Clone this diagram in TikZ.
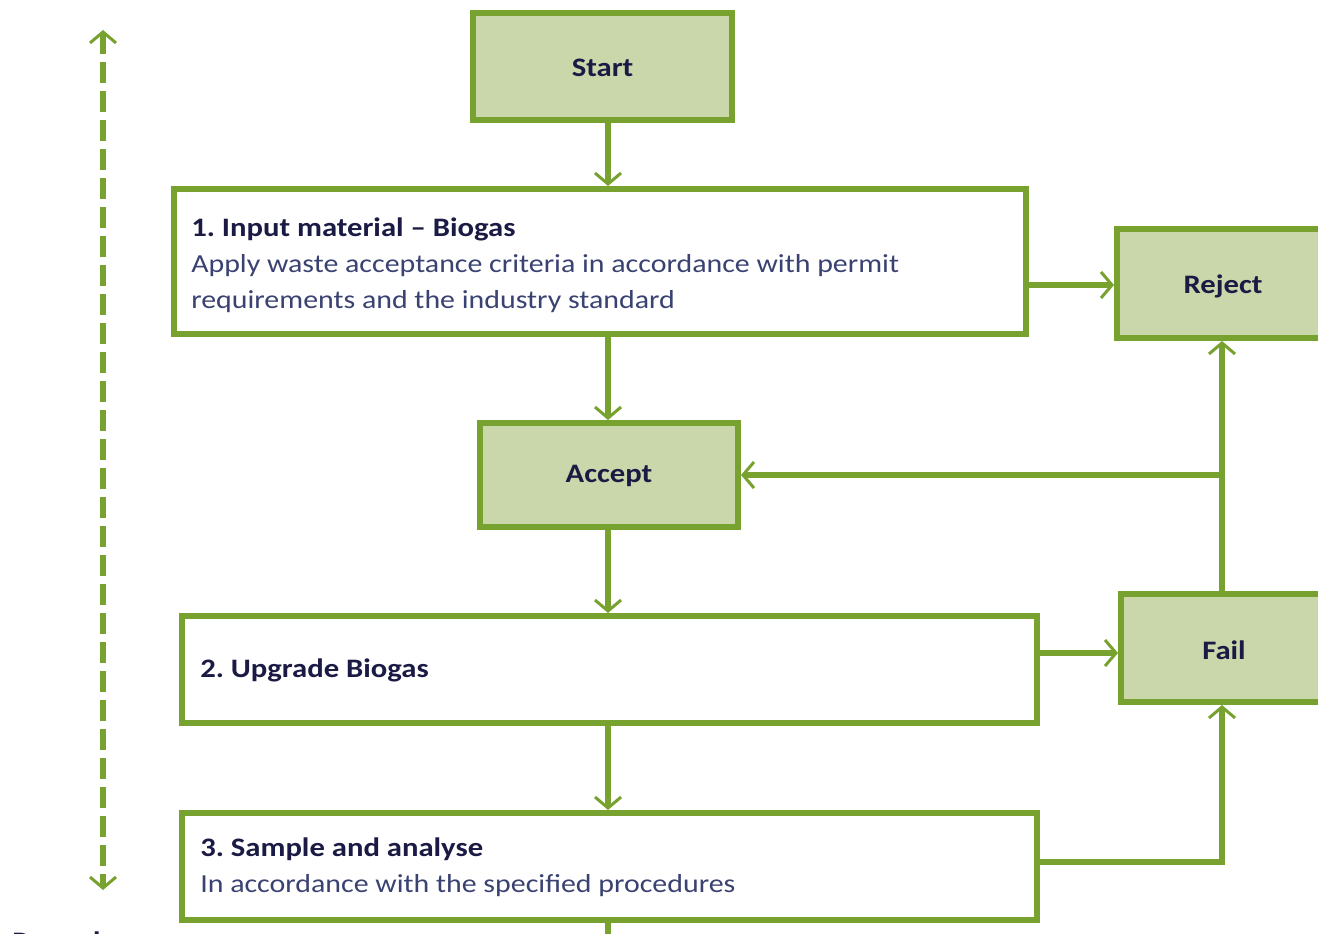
\documentclass[tikz,border=0pt]{standalone}
\usepackage{fontspec}
\setmainfont[FakeStretch=1.15]{Carlito}
\usetikzlibrary{arrows.meta,positioning,calc}
\definecolor{grn}{HTML}{78A22F}
\definecolor{lgrn}{HTML}{C9D7AA}
\definecolor{headc}{HTML}{1A1A45}
\definecolor{bodyc}{HTML}{3A4272}
\frenchspacing
\tikzset{
  box/.style={draw=grn, line width=6*0.75pt, rectangle, inner sep=0pt},
  filledbox/.style={box, fill=lgrn},
  conn/.style={draw=grn, line width=6*0.75pt},
  tipped/.style={-{Straight Barb[length=11*0.75pt, width=26*0.75pt, line width=3*0.75pt]}},
  headtxt/.style={font=\bfseries\fontsize{20}{25}\selectfont, text=headc, inner sep=0pt},
  bodytxt/.style={font=\fontsize{19.5}{27}\selectfont, text=bodyc, inner sep=0pt, align=left},
}
\begin{document}
\begin{tikzpicture}[x=0.75pt, y=-0.75pt]
\useasboundingbox (0,0) rectangle (1318,934);
% boxes
\node[filledbox, minimum width=259*0.75pt, minimum height=107*0.75pt] (start) at (602.5,66.5) {};
\node[headtxt] (starttxt) at (602.5,68) {Start};
\node[box, fill=white, minimum width=852*0.75pt, minimum height=145*0.75pt] (b1) at (600,261.5) {};
\node[headtxt, anchor=base west] (b1h) at (191,237) {1. Input material – Biogas};
\node[bodytxt, anchor=base west] (b1t1) at (191,273) {Apply waste acceptance criteria in accordance with permit};
\node[bodytxt, anchor=base west] (b1t2) at (191,309) {requirements and the industry standard};
\node[filledbox, minimum width=212*0.75pt, minimum height=109*0.75pt] (reject) at (1223,283.5) {};
\node[headtxt] (rejecttxt) at (1223,286) {Reject};
\node[filledbox, minimum width=258*0.75pt, minimum height=104*0.75pt] (accept) at (609,475) {};
\node[headtxt] (accepttxt) at (609,476) {Accept};
\node[box, fill=white, minimum width=855*0.75pt, minimum height=107*0.75pt] (b2) at (609.5,669.5) {};
\node[headtxt, anchor=base west] (b2h) at (200,677) {2. Upgrade Biogas};
\node[filledbox, minimum width=206*0.75pt, minimum height=108*0.75pt] (fail) at (1224,648) {};
\node[headtxt] (failtxt) at (1224,650) {Fail};
\node[box, fill=white, minimum width=855*0.75pt, minimum height=107*0.75pt] (b3) at (609.5,866.5) {};
\node[headtxt, anchor=base west] (b3h) at (200,856) {3. Sample and analyse};
\node[bodytxt, anchor=base west] (b3t) at (200,892) {In accordance with the specified procedures};
\node[headtxt, anchor=base west] (records) at (12,950) {Records};
% spine
\coordinate (sp) at (608,0);
\coordinate (rs) at (1222,0);
\draw[conn, tipped] (start.south -| sp) -- (b1.north -| sp);
\draw[conn, tipped] (b1.south -| sp) -- (accept.north -| sp);
\draw[conn, tipped] (accept.south -| sp) -- (b2.north -| sp);
\draw[conn, tipped] (b2.south -| sp) -- (b3.north -| sp);
\coordinate (below) at (608,960);
\draw[conn] (b3.south -| sp) -- (below);
% right side
\coordinate (b1r) at (b1.east |- 0,285);
\draw[conn, tipped] (b1r) -- (b1r -| reject.west);
\coordinate (b2r) at (b2.east |- 0,653);
\draw[conn, tipped] (b2r) -- (b2r -| fail.west);
\coordinate (b3r) at (b3.east |- 0,862);
\coordinate (corner) at (rs |- b3r);
\draw[conn, tipped, line join=miter] (b3r) -- (corner) -- (fail.south -| rs);
\draw[conn, tipped] (fail.north -| rs) -- (reject.south -| rs);
\coordinate (branch) at (rs |- accept.east);
\draw[conn, tipped] (branch) -- (accept.east);
% dashed records line
\coordinate (dtop) at (103,30);
\coordinate (dbot) at (103,890);
\draw[conn, dash pattern=on 21*0.75pt off 8*0.75pt, {Straight Barb[length=11*0.75pt, width=26*0.75pt, line width=3*0.75pt]}-{Straight Barb[length=11*0.75pt, width=26*0.75pt, line width=3*0.75pt]}] (dtop) -- (dbot);
\end{tikzpicture}
\end{document}
